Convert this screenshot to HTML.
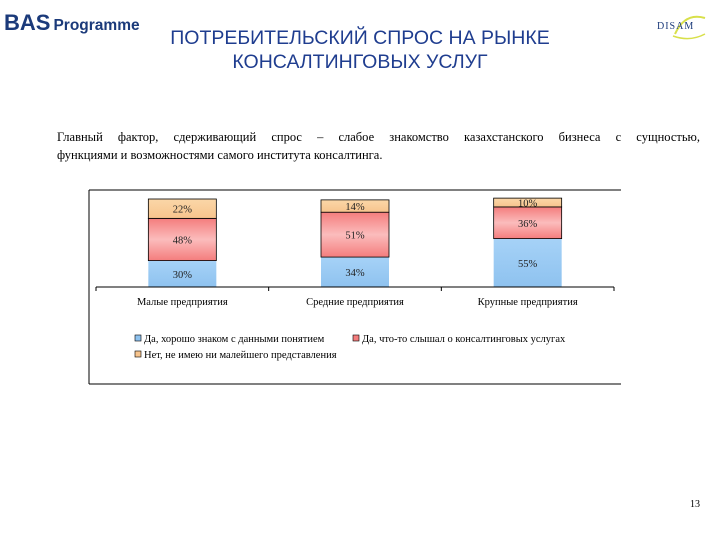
<!DOCTYPE html>
<html><head><meta charset="utf-8"><style>
body{margin:0;width:720px;height:540px;background:#fff;position:relative;overflow:hidden;font-family:"Liberation Serif","Noto Serif CJK SC",serif}
.abs{position:absolute}
</style></head><body>
<div class="abs" style="left:4px;top:10px;font-family:'Liberation Sans',sans-serif;color:#1b3a7a;white-space:nowrap"><b style="font-size:22px">BAS</b><b style="font-size:15.5px;margin-left:3px">Programme</b></div>
<div class="abs" style="left:655px;top:14px;width:55px;height:24px;">
<svg width="55" height="26"><path d="M20 20 Q30 -2 50 4" stroke="#d8e04a" stroke-width="2" fill="none"/><path d="M18 22 Q35 28 50 20" stroke="#d8e04a" stroke-width="1.5" fill="none"/><text x="2" y="15" font-family="Liberation Serif" font-size="10" fill="#1b3a7a" letter-spacing="1">DISAM</text></svg></div>
<div class="abs" style="left:0;width:720px;top:26px;text-align:center;font-family:'Liberation Sans',sans-serif;font-size:19.5px;line-height:24px;color:#1f3d8f">ПОТРЕБИТЕЛЬСКИЙ СПРОС НА РЫНКЕ<br>КОНСАЛТИНГОВЫХ УСЛУГ</div>
<div class="abs" style="left:57px;top:128px;width:643px;font-size:12.5px;line-height:18px"><div style="text-align:justify;text-align-last:justify">Главный фактор, сдерживающий спрос – слабое знакомство казахстанского бизнеса с сущностью,</div><div>функциями и возможностями самого института консалтинга.</div></div>
<svg class="abs" style="left:0;top:0" width="720" height="540">
<defs>
<linearGradient id="gb" x1="0" x2="0" y1="0" y2="1"><stop offset="0" stop-color="#a6d2f7"/><stop offset="1" stop-color="#8ec2ef"/></linearGradient>
<linearGradient id="gr" x1="0" x2="0" y1="0" y2="1"><stop offset="0" stop-color="#f47d7d"/><stop offset="0.5" stop-color="#fbbcbc"/><stop offset="1" stop-color="#f47d7d"/></linearGradient>
<linearGradient id="go" x1="0" x2="0" y1="0" y2="1"><stop offset="0" stop-color="#fbd7a8"/><stop offset="1" stop-color="#f7c48d"/></linearGradient>
</defs>
<line x1="89" y1="190" x2="621" y2="190" stroke="#000"/>
<line x1="89" y1="190" x2="89" y2="384" stroke="#000"/>
<line x1="89" y1="384" x2="621" y2="384" stroke="#000"/>
<g id="plot"></g>
</svg>
<div class="abs" style="left:690px;top:499px;font-size:10px">13</div>
<script>
const categories=["Малые предприятия","Средние предприятия","Крупные предприятия"];
const seriesYes=[30,34,55];
const seriesHeard=[48,51,36];
const seriesNo=[22,14,10];
const seriesNames=["Да, хорошо знаком с данными понятием","Да, что-то слышал о консалтинговых услугах","Нет, не имею ни малейшего представления"];
const fills=["url(#gb)","url(#gr)","url(#go)"];
const NS="http://www.w3.org/2000/svg";
const g=document.getElementById('plot');
const base=287, ph=88, x0=96, x1=614, bw=68;
const y=v=>base-v/100*ph;
const band=(x1-x0)/categories.length;
const cx=i=>x0+band*(i+0.5);
function mk(t,a){const e=document.createElementNS(NS,t);for(const k in a)e.setAttribute(k,a[k]);g.appendChild(e);return e;}
const series=[seriesYes,seriesHeard,seriesNo];
categories.forEach((c,i)=>{
  let cum=0;
  series.forEach((s,j)=>{
    const v=s[i];
    const r=mk('rect',{x:cx(i)-bw/2,y:y(cum+v),width:bw,height:y(cum)-y(cum+v),fill:fills[j],stroke:j?"#000":"none","stroke-width":0.8});
    
    
    const t=mk('text',{x:cx(i),y:(y(cum)+y(cum+v))/2+4,"text-anchor":"middle","font-size":10.5,fill:"#222"});
    t.textContent=v+'%';
    
    
    cum+=v;
  });
  const l=mk('text',{x:cx(i),y:305,"text-anchor":"middle","font-size":10.5});
  l.textContent=c;
  
  
});
mk('line',{x1:x0,y1:base,x2:x1,y2:base,stroke:"#000"});
for(let i=0;i<=categories.length;i++)mk('line',{x1:x0+band*i,y1:base,x2:x0+band*i,y2:base+4,stroke:"#000"});
const lp=[[135,342],[353,342],[135,358]];
const sw=["#8ec2ef","#f47d7d","#f7c48d"];
seriesNames.forEach((n,j)=>{
  const r=mk('rect',{x:lp[j][0],y:lp[j][1]-7,width:6,height:6,fill:sw[j],stroke:"#000","stroke-width":0.6});
  
  
  const t=mk('text',{x:lp[j][0]+9,y:lp[j][1],"font-size":10.5});
  t.textContent=n;
  
  
});
</script>
</body></html>
